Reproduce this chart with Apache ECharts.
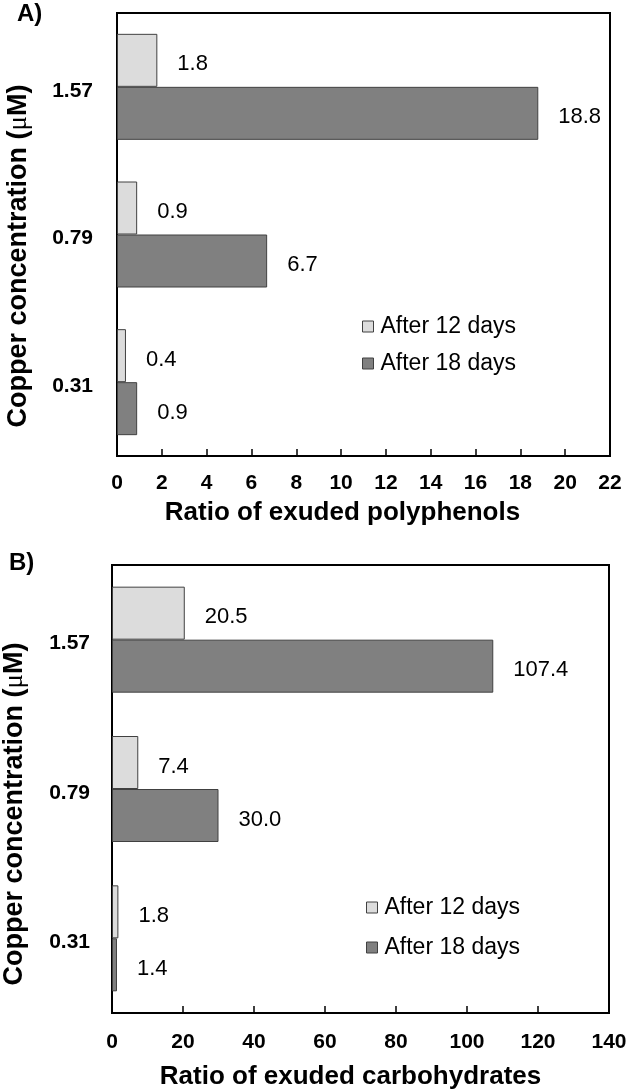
<!DOCTYPE html>
<html>
<head>
<meta charset="utf-8">
<script src="https://cdn.jsdelivr.net/npm/echarts@6/dist/echarts.min.js"></script>
<style>
html,body{margin:0;padding:0;background:#fff;}
#c{width:626px;height:1090px;}
</style>
</head>
<body>
<div id="c"></div>
<script>
const categories = ['0.31', '0.79', '1.57'];
const seriesNames = ['After 12 days', 'After 18 days'];
const polyphenols12 = [0.4, 0.9, 1.8];
const polyphenols18 = [0.9, 6.7, 18.8];
const carbohydrates12 = [1.8, 7.4, 20.5];
const carbohydrates18 = [1.4, 30.0, 107.4];
const ticksA = {min: 0, max: 22, interval: 2};
const ticksB = {min: 0, max: 140, interval: 20};

const FONT = 'Liberation Sans, Arial, sans-serif';
const colors = ['#dcdcdc', '#808080'];

function barSeries(name, data, idx, color) {
  return {
    type: 'bar', name: name, data: data,
    xAxisIndex: idx, yAxisIndex: idx,
    barWidth: 53, barGap: '0%',
    itemStyle: {color: color, borderColor: '#404040', borderWidth: 1},
    label: {
      show: true, position: 'right', distance: 20, offset: [0, 4],
      fontFamily: FONT, fontSize: 22, color: '#000',
      formatter: p => Number(p.value).toFixed(1)
    }
  };
}

function xAxis(idx, t, name, nameGap, margin, shift) {
  return {
    type: 'value', gridIndex: idx, min: t.min, max: t.max, interval: t.interval,
    name: name, nameLocation: 'middle', nameGap: nameGap,
    nameTextStyle: {fontFamily: FONT, fontWeight: 'bold', fontSize: 26, color: '#000', padding: [0, shift, 0, 0]},
    axisLine: {show: true, lineStyle: {color: '#000', width: 2}},
    axisTick: {show: true, inside: true, length: 7, lineStyle: {color: '#000', width: 1.5}},
    axisLabel: {fontFamily: FONT, fontWeight: 'bold', fontSize: 21, color: '#000', margin: margin},
    splitLine: {show: false}
  };
}

function yAxis(idx, nameGap, margin, shift) {
  return {
    type: 'category', gridIndex: idx, data: categories,
    name: 'Copper concentration ({mu|μ}M)', nameLocation: 'middle', nameGap: nameGap,
    nameTextStyle: {fontFamily: FONT, fontWeight: 'bold', fontSize: 27, color: '#000', padding: [0, shift, 0, 0],
      rich: {mu: {fontFamily: 'Liberation Serif, serif', fontWeight: 'normal', fontSize: 27, color: '#000'}}},
    axisLine: {show: true, lineStyle: {color: '#000', width: 2}},
    axisTick: {show: false},
    axisLabel: {
      color: '#000', margin: margin,
      formatter: v => '{a|' + v + '}',
      rich: {a: {fontFamily: FONT, fontWeight: 'bold', fontSize: 21, color: '#000', padding: [8, 0, 0, 0]}}
    },
    splitLine: {show: false}
  };
}

const chart = echarts.init(document.getElementById('c'), null, {renderer: 'canvas'});
chart.setOption({
  animation: false,
  backgroundColor: '#fff',
  title: [
    {text: 'A)', left: 17, top: 2, padding: 0, textStyle: {fontFamily: FONT, fontWeight: 'bold', fontSize: 24, color: '#000'}},
    {text: 'B)', left: 9, top: 551, padding: 0, textStyle: {fontFamily: FONT, fontWeight: 'bold', fontSize: 24, color: '#000'}}
  ],
  grid: [
    {left: 117, top: 13, width: 493, height: 443, outerBoundsMode: 'none', containLabel: false,
      show: true, borderColor: '#000', borderWidth: 2, backgroundColor: 'transparent'},
    {left: 112, top: 565, width: 497, height: 448, outerBoundsMode: 'none', containLabel: false,
      show: true, borderColor: '#000', borderWidth: 2, backgroundColor: 'transparent'}
  ],
  legend: [
    {orient: 'vertical', left: 362, top: 315, padding: 0, itemWidth: 11, itemHeight: 11, itemGap: 14, icon: 'rect',
      data: seriesNames, selectedMode: false,
      itemStyle: {borderColor: '#404040', borderWidth: 1},
      textStyle: {fontFamily: FONT, fontSize: 23, color: '#000', padding: [0, 0, 0, 2]}},
    {orient: 'vertical', left: 366, top: 896, padding: 0, itemWidth: 11, itemHeight: 11, itemGap: 17, icon: 'rect',
      data: seriesNames, selectedMode: false,
      itemStyle: {borderColor: '#404040', borderWidth: 1},
      textStyle: {fontFamily: FONT, fontSize: 23, color: '#000', padding: [0, 0, 0, 2]}}
  ],
  xAxis: [
    xAxis(0, ticksA, 'Ratio of exuded polyphenols', 44, 17, 42),
    xAxis(1, ticksB, 'Ratio of exuded carbohydrates', 51, 19, 20)
  ],
  yAxis: [
    yAxis(0, 85, 24, 43),
    yAxis(1, 84, 22, 50)
  ],
  series: [
    barSeries(seriesNames[0], polyphenols12, 0, colors[0]),
    barSeries(seriesNames[1], polyphenols18, 0, colors[1]),
    barSeries(seriesNames[0], carbohydrates12, 1, colors[0]),
    barSeries(seriesNames[1], carbohydrates18, 1, colors[1])
  ]
});
</script>
</body>
</html>
